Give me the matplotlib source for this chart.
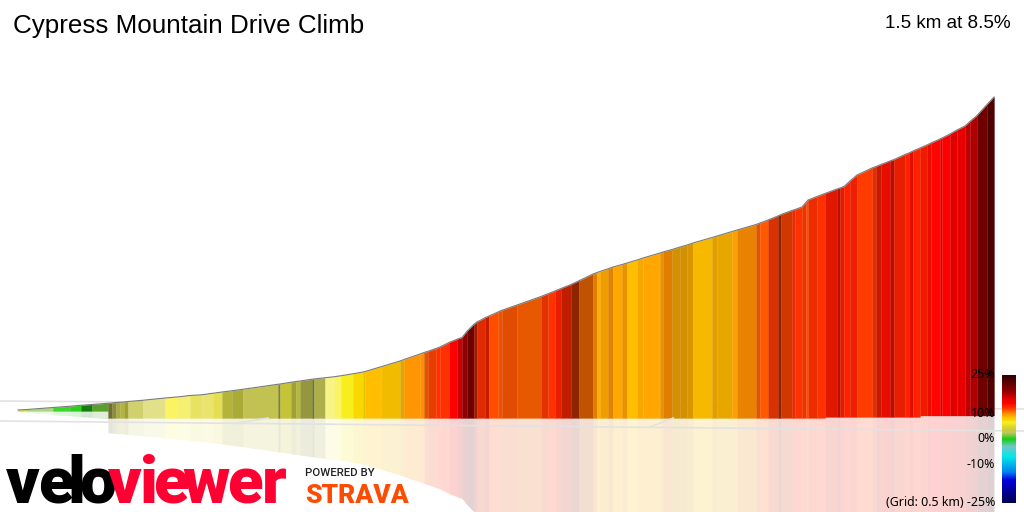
import numpy as np
import matplotlib
matplotlib.use('Agg')
import matplotlib.pyplot as plt
from matplotlib.colors import LinearSegmentedColormap, to_rgb

# distance along the climb (m) at the edge of every coloured block
dist_m = [
    0, 13.5, 52.5, 78, 94.5, 111, 135, 141, 147, 153,
    159, 165, 187.5, 220.5, 238.5, 258, 276, 292.5, 306, 321,
    337.5, 390, 393, 409.5, 417, 423, 441, 444, 460.5, 474,
    484.5, 502.5, 517.5, 520.5, 544.5, 573, 579, 603, 609, 615,
    627, 633, 646.5, 658.5, 666, 673.5, 684, 688.5, 700.5, 706.5,
    720, 726, 748.5, 784.5, 795, 805.5, 814.5, 829.5, 841.5, 862.5,
    868.5, 873, 885, 892.5, 906, 913.5, 928.5, 937.5, 963, 967.5,
    981, 993, 1003.5, 1012.5, 1041, 1048.5, 1071, 1078.5, 1107, 1113,
    1125, 1140, 1144.5, 1161, 1165.5, 1176, 1182, 1185, 1198.5, 1210.5,
    1228.5, 1233, 1239, 1248, 1258.5, 1281, 1287, 1294.5, 1308, 1314,
    1330.5, 1336.5, 1342.5, 1353, 1363.5, 1369.5, 1383, 1386, 1398, 1408.5,
    1420.5, 1428, 1438.5, 1453.5, 1464,
]

# elevation gain (m) at the same edges
elev_m = [
    0, 0.2, 1.0, 1.5, 1.9, 2.2, 2.7, 2.8, 3.0, 3.1,
    3.2, 3.4, 3.9, 4.8, 5.2, 5.8, 6.1, 6.7, 7.2, 7.7,
    8.3, 10.3, 10.4, 11.1, 11.4, 11.6, 12.3, 12.4, 12.9, 13.3,
    13.7, 14.5, 15.2, 15.4, 17.3, 19.6, 20.2, 22.4, 23.0, 23.5,
    24.6, 25.2, 27.0, 28.3, 29.0, 31.5, 34.3, 35.2, 36.9, 37.6,
    39.2, 39.9, 42.0, 45.4, 46.5, 47.6, 48.6, 50.2, 51.7, 54.4,
    55.0, 55.4, 56.5, 57.2, 58.2, 58.8, 60.0, 60.8, 62.8, 63.2,
    64.2, 65.2, 66.0, 66.8, 69.0, 69.6, 71.4, 72.0, 74.2, 74.8,
    76.0, 77.6, 78.2, 79.8, 80.2, 81.2, 83.1, 84.0, 85.4, 86.6,
    88.4, 88.8, 89.4, 91.6, 94.0, 96.8, 97.4, 98.2, 99.6, 100.2,
    102.2, 102.8, 103.6, 104.8, 106.0, 106.8, 108.4, 108.8, 110.4, 112.0,
    113.6, 115.4, 117.8, 122.2, 125.2,
]

# gradient (%) of every block
gradient = [
    5, 1.5, 0.3, 0.3, 0.2, 1.2, 3, 3, 3, 3.5,
    3.5, 3, 4, 6.5, 6, 5, 5, 5, 3.5, 3.5,
    3, 3.5, 4, 3.5, 3.5, 3, 3, 3, 6, 6.5,
    6.6, 7.5, 7.8, 8.5, 8.3, 8.5, 9.8, 10, 11, 11.8,
    12.3, 12.3, 14, 16.7, 19, 21, 12.5, 12.3, 12.8, 11.5,
    11.2, 11.2, 11, 12, 12.3, 12.8, 12.5, 11.8, 10.7, 10,
    9, 9.2, 9.8, 9.2, 9.4, 8.5, 9, 9.2, 9.4, 10,
    8.9, 8.9, 8.9, 8.5, 8.8, 8.7, 9.2, 10, 11, 11.2,
    12, 11.9, 11.8, 12.3, 12.3, 12, 11.5, 12.3, 12.3, 13,
    13.5, 12.8, 12.8, 12.8, 12, 12.3, 12.8, 13.5, 13.5, 12.8,
    12.8, 13.5, 12.8, 13, 13.5, 13.8, 16, 14, 16, 15.5,
    17, 17.5, 21, 23,
]

# relief of every block: below 1 is shadow, above 1 is washed out by light
relief = [
    1, 1.3, 1.1, 1, 0.6, 0.8, 0.55, 0.7, 0.85, 0.9,
    0.8, 1.15, 1.4, 1.3, 1.35, 1.25, 1.3, 1.15, 0.9, 0.85,
    0.97, 0.65, 0.95, 0.8, 0.92, 0.75, 0.58, 0.87, 1.45, 1.3,
    1, 1, 0.93, 1, 0.95, 0.88, 1, 1, 0.88, 0.91,
    1, 1, 1, 1, 1, 1, 0.63, 0.88, 0.78, 1,
    0.93, 0.88, 0.91, 0.88, 1, 0.91, 0.75, 0.55, 0.75, 0.88,
    1, 0.94, 0.88, 1, 0.91, 1, 0.97, 1, 0.91, 0.88,
    0.82, 0.82, 0.85, 0.97, 0.88, 0.91, 0.97, 0.91, 0.88, 1,
    0.85, 0.56, 0.82, 0.91, 1, 0.91, 1, 0.93, 1, 0.88,
    0.75, 0.88, 1, 0.93, 1, 0.91, 0.78, 0.91, 0.75, 0.91,
    1, 0.88, 1, 0.94, 0.91, 1, 1, 1, 1, 1,
    1, 1, 1, 1,
]

# where the colour bar runs through which colour
bar_pct = [-25, -16, -13, -7, -3, 0, 1.5, 2.7, 3.5, 5, 6.5, 7.5, 8.5, 9.2, 10,
           10.7, 11.2, 12.3, 13.5, 14, 16, 17, 18, 21, 23, 25]
bar_colors = ['#000050', '#0000e0', '#0080f0', '#00e8e8', '#70c8c8', '#10d010',
              '#80c840', '#c8c860', '#c8c840', '#e0d830', '#f8f020', '#f8d800',
              '#ffc000', '#ffa800', '#ff9000', '#ff7000', '#ff5800', '#ff3000',
              '#ff1000', '#ff0000', '#e00000', '#c00000', '#a00000', '#700000',
              '#500000', '#300000']
bar_ticks = [25, 10, 0, -10]

dist_m = np.array(dist_m)
elev_m = np.array(elev_m)
# the floor of the model: high at the start, rising a little towards the top
floor_m = np.select([dist_m < 135, dist_m < 1200, dist_m < 1350], [-0.4, -3.2, -2.8], default=-2.2)

cmap = LinearSegmentedColormap.from_list(
    'gradient', [((p + 25) / 50, c) for p, c in zip(bar_pct, bar_colors)], N=512)


def block_color(pct, light):
    rgb = np.array(to_rgb(cmap((pct + 25) / 50)))
    if light < 1:
        return tuple(rgb * light)
    return tuple(rgb + (1 - rgb) * (light - 1))


def px_text(x, y, s, **kw):
    return fig.text(x / 1024, 1 - y / 512, s, **kw)


fig = plt.figure(figsize=(10.24, 5.12), dpi=100)
ax = fig.add_axes([0, 0, 1, 1])
ax.set_xlim(-27, 1509)
ax.set_ylim(-40.8, 164)
ax.axis('off')

# perspective floor grid
grid_color = '#e2e2e2'
ax.plot([-27, 1509], [3.6, 0.4], color=grid_color, lw=1.2, zorder=1)
ax.plot([-27, 1509], [-4.4, -8.4], color=grid_color, lw=1.2, zorder=3)
ax.plot([330, 375], [-5.2, -3.2], color=grid_color, lw=1.2, zorder=3)
ax.plot([948, 983], [-6.8, -3.2], color=grid_color, lw=1.2, zorder=3)

for i in range(len(gradient)):
    xs = dist_m[i:i + 2]
    tops = elev_m[i:i + 2]
    base = floor_m[i]
    c = block_color(gradient[i], relief[i])
    ax.fill_between(xs, [base, base], tops, color=c, lw=0.2, zorder=2)
    # mirrored block on the floor
    ax.fill_between(xs, [base, base], 2 * base - tops, color=c, alpha=0.18, lw=0, zorder=2)

ax.plot(dist_m, elev_m, color='#7a7a7a', lw=0.8, zorder=4)

# colour bar
cax = fig.add_axes([1002 / 1024, 9 / 512, 14 / 1024, 128 / 512])
cax.imshow(np.linspace(25, -25, 256).reshape(-1, 1), cmap=cmap, vmin=-25, vmax=25,
           aspect='auto', extent=[0, 1, -25, 25])
cax.axis('off')
for t in bar_ticks:
    cax.text(-0.5, t, f'{t}%', transform=cax.get_yaxis_transform(), ha='right', va='center',
             fontsize=8.9, family='Noto Sans', color='black')
cax.text(-0.5, -25, '(Grid: 0.5 km) -25%', transform=cax.get_yaxis_transform(), ha='right',
         va='center', fontsize=8.9, family='Noto Sans', color='black')

# titles
px_text(13, 26, 'Cypress Mountain Drive Climb', fontsize=18.7, family='Liberation Sans',
        va='center', ha='left', color='black')
px_text(1011, 24, '1.5 km at 8.5%', fontsize=13.6, family='Liberation Sans',
        va='center', ha='right', color='black')

# veloviewer wordmark, letter by letter because the letters overlap
for ch, x in zip('velo', [23, 56, 76, 98]):
    px_text(x, 503, ch, fontsize=47, family='Roboto', weight='black', color='black',
            ha='center', va='baseline')
for ch, x in zip('viewer', [125, 149, 171, 206, 245, 274]):
    px_text(x, 503, ch, fontsize=47, family='Roboto', weight='black', color='#ff0033',
            ha='center', va='baseline')

px_text(305, 473, 'POWERED BY', fontsize=8.2, family='Roboto', weight='medium', color='#222222',
        va='center', ha='left')
px_text(305, 503, 'STRAVA', fontsize=19, family='Roboto', weight='black', color='#fc4c02',
        va='baseline', ha='left')

fig.savefig('out.png', dpi=100)
